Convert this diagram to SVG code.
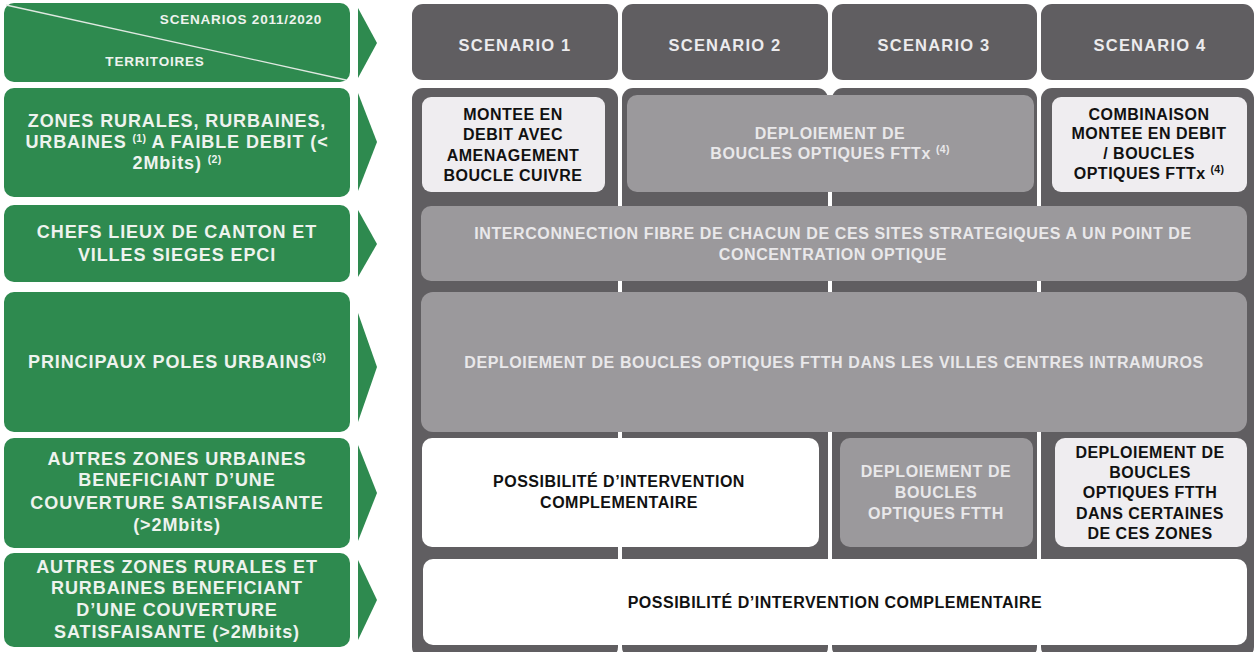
<svg xmlns="http://www.w3.org/2000/svg" width="1254" height="652" viewBox="0 0 1254 652">
  <style>
    text { font-family: "Liberation Sans", Arial, sans-serif; font-weight: bold; text-anchor: middle; }
    .g { fill: #2e8a4f; }
    .gt { fill: #eef3ee; font-size: 18px; letter-spacing: 0.9px; }
    .gs { fill: #eef3ee; font-size: 13.5px; letter-spacing: 0.8px; }
    .arr { fill: #2e8a4f; }
    .col { fill: #605e61; }
    .ht { fill: #ecebed; font-size: 16.5px; letter-spacing: 1.2px; }
    .mid { fill: #9b999c; }
    .lt { fill: #efedf0; }
    .wh { fill: #ffffff; }
    .dk { fill: #111111; font-size: 16px; letter-spacing: 0.5px; }
    .pl { fill: #e9e8ea; font-size: 16px; letter-spacing: 0.6px; }
    .sup { font-size: 10.5px; letter-spacing: 0.3px; }
  </style>

  <!-- scenario columns (headers + bodies) -->
  <g id="columns">
    <rect class="col" x="412" y="4" width="206" height="76" rx="11"/>
    <rect class="col" x="622" y="4" width="206" height="76" rx="11"/>
    <rect class="col" x="832" y="4" width="205" height="76" rx="11"/>
    <rect class="col" x="1041" y="4" width="213" height="76" rx="11"/>
    <rect class="col" x="412" y="88" width="206" height="570" rx="11"/>
    <rect class="col" x="622" y="88" width="206" height="570" rx="11"/>
    <rect class="col" x="832" y="88" width="205" height="570" rx="11"/>
    <rect class="col" x="1041" y="88" width="213" height="570" rx="11"/>
  </g>

  <g id="scenario-headers">
    <text class="ht" x="515" y="51">SCENARIO 1</text>
    <text class="ht" x="725" y="51">SCENARIO 2</text>
    <text class="ht" x="934" y="51">SCENARIO 3</text>
    <text class="ht" x="1150" y="51">SCENARIO 4</text>
  </g>

  <!-- left territory labels -->
  <g id="territoires-header">
    <rect class="g" x="4" y="3" width="346" height="79" rx="10"/>
    <line x1="6" y1="5" x2="346" y2="80" stroke="#dfe9e1" stroke-width="1.3"/>
    <text class="gs" x="241" y="24">SCENARIOS 2011/2020</text>
    <text class="gs" x="155" y="66">TERRITOIRES</text>
    <polygon class="arr" points="358,8 377,43 358,78"/>
  </g>

  <g id="zones-faible-debit">
    <rect class="g" x="4" y="88" width="346" height="109" rx="10"/>
    <text class="gt" x="177" y="127">ZONES RURALES, RURBAINES,</text>
    <text class="gt" x="177" y="148">URBAINES <tspan class="sup" dy="-6">(1)</tspan><tspan dy="6"> A FAIBLE DEBIT (&lt;</tspan></text>
    <text class="gt" x="177" y="169">2Mbits) <tspan class="sup" dy="-6">(2)</tspan></text>
    <polygon class="arr" points="358,93 377,142 358,191"/>
  </g>

  <g id="chefs-lieux">
    <rect class="g" x="4" y="205" width="346" height="77" rx="10"/>
    <text class="gt" x="177" y="238">CHEFS LIEUX DE CANTON ET</text>
    <text class="gt" x="177" y="261">VILLES SIEGES EPCI</text>
    <polygon class="arr" points="358,210 377,244 358,277"/>
  </g>

  <g id="poles-urbains">
    <rect class="g" x="4" y="292" width="346" height="140" rx="10"/>
    <text class="gt" x="177" y="368">PRINCIPAUX POLES URBAINS<tspan class="sup" dy="-7">(3)</tspan></text>
    <polygon class="arr" points="358,313 377,367 358,422"/>
  </g>

  <g id="autres-zones-urbaines">
    <rect class="g" x="4" y="438" width="346" height="110" rx="10"/>
    <text class="gt" x="177" y="465">AUTRES ZONES URBAINES</text>
    <text class="gt" x="177" y="486">BENEFICIANT D’UNE</text>
    <text class="gt" x="177" y="509">COUVERTURE SATISFAISANTE</text>
    <text class="gt" x="177" y="531">(&gt;2Mbits)</text>
    <polygon class="arr" points="358,445 377,493 358,541"/>
  </g>

  <g id="autres-zones-rurales">
    <rect class="g" x="4" y="553" width="346" height="94" rx="10"/>
    <text class="gt" x="177" y="573">AUTRES ZONES RURALES ET</text>
    <text class="gt" x="177" y="594">RURBAINES BENEFICIANT</text>
    <text class="gt" x="177" y="616">D’UNE COUVERTURE</text>
    <text class="gt" x="177" y="638">SATISFAISANTE (&gt;2Mbits)</text>
    <polygon class="arr" points="358,560 377,600 358,640"/>
  </g>

  <!-- row 1 -->
  <g id="montee-debit">
    <rect class="lt" x="422" y="97" width="183" height="95" rx="9"/>
    <text class="dk" x="513" y="120">MONTEE EN</text>
    <text class="dk" x="513" y="140">DEBIT AVEC</text>
    <text class="dk" x="513" y="161">AMENAGEMENT</text>
    <text class="dk" x="513" y="181">BOUCLE CUIVRE</text>
  </g>
  <g id="fttx">
    <rect class="mid" x="627" y="95" width="407" height="97" rx="10"/>
    <text class="pl" x="830" y="139">DEPLOIEMENT DE</text>
    <text class="pl" x="830" y="159">BOUCLES OPTIQUES FTTx <tspan class="sup" dy="-6">(4)</tspan></text>
  </g>
  <g id="combinaison">
    <rect class="lt" x="1052" y="97" width="195" height="95" rx="9"/>
    <text class="dk" x="1149" y="120">COMBINAISON</text>
    <text class="dk" x="1149" y="139">MONTEE EN DEBIT</text>
    <text class="dk" x="1149" y="159">/ BOUCLES</text>
    <text class="dk" x="1149" y="179">OPTIQUES FTTx <tspan class="sup" dy="-6">(4)</tspan></text>
  </g>

  <!-- row 2 -->
  <g id="interconnection">
    <rect class="mid" x="421" y="206" width="826" height="75" rx="10"/>
    <text class="pl" x="833" y="239">INTERCONNECTION FIBRE DE CHACUN DE CES SITES STRATEGIQUES A UN POINT DE</text>
    <text class="pl" x="833" y="260">CONCENTRATION OPTIQUE</text>
  </g>

  <!-- row 3 -->
  <g id="ftth-villes-centres">
    <rect class="mid" x="421" y="292" width="826" height="140" rx="12"/>
    <text class="pl" x="834" y="368">DEPLOIEMENT DE BOUCLES OPTIQUES FTTH DANS LES VILLES CENTRES INTRAMUROS</text>
  </g>

  <!-- row 4 -->
  <g id="intervention-1-2">
    <rect class="wh" x="422" y="438" width="397" height="109" rx="10"/>
    <text class="dk" x="619" y="487">POSSIBILITÉ D’INTERVENTION</text>
    <text class="dk" x="619" y="508">COMPLEMENTAIRE</text>
  </g>
  <g id="ftth-3">
    <rect class="mid" x="840" y="438" width="193" height="109" rx="10"/>
    <text class="pl" x="936" y="477">DEPLOIEMENT DE</text>
    <text class="pl" x="936" y="498">BOUCLES</text>
    <text class="pl" x="936" y="519">OPTIQUES FTTH</text>
  </g>
  <g id="ftth-4">
    <rect class="lt" x="1055" y="438" width="192" height="109" rx="10"/>
    <text class="dk" x="1150" y="458">DEPLOIEMENT DE</text>
    <text class="dk" x="1150" y="478">BOUCLES</text>
    <text class="dk" x="1150" y="498">OPTIQUES FTTH</text>
    <text class="dk" x="1150" y="519">DANS CERTAINES</text>
    <text class="dk" x="1150" y="539">DE CES ZONES</text>
  </g>

  <!-- row 5 -->
  <g id="intervention-all">
    <rect class="wh" x="423" y="559" width="824" height="86" rx="10"/>
    <text class="dk" x="835" y="608">POSSIBILITÉ D’INTERVENTION COMPLEMENTAIRE</text>
  </g>
</svg>
